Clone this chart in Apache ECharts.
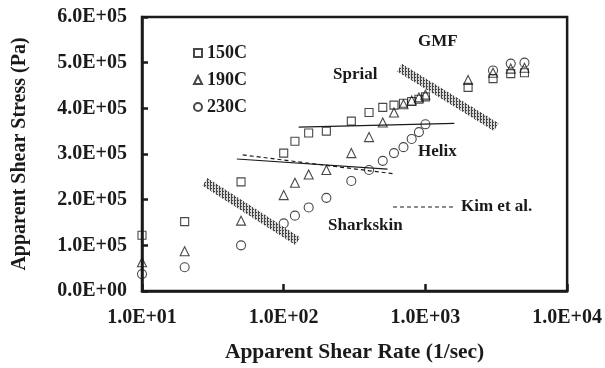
<!DOCTYPE html>
<html>
<head>
<meta charset="utf-8">
<script src="https://cdn.jsdelivr.net/npm/echarts@6/dist/echarts.min.js"></script>
<style>
  html, body { margin: 0; padding: 0; background: #fff; }
  #chart { width: 605px; height: 368px; }
</style>
</head>
<body>
<div id="chart"></div>
<script>
var shearRate = [10, 20, 50, 100, 120, 150, 200, 300, 400, 500, 600, 700, 800, 900, 1000, 2000, 3000, 4000, 5000];
var stress150 = [1.22, 1.52, 2.39, 3.02, 3.28, 3.46, 3.5, 3.72, 3.91, 4.02, 4.07, 4.11, 4.15, 4.2, 4.25, 4.46, 4.65, 4.76, 4.78];
var stress190 = [0.63, 0.87, 1.54, 2.1, 2.37, 2.55, 2.65, 3.02, 3.37, 3.69, 3.91, 4.09, 4.17, 4.24, 4.3, 4.62, 4.78, 4.87, 4.89];
var stress230 = [0.37, 0.52, 1.0, 1.48, 1.65, 1.83, 2.04, 2.41, 2.65, 2.85, 3.02, 3.15, 3.33, 3.48, 3.65, null, 4.83, 4.98, 5.0];

// boundary lines [shear rate, stress]
var spiralLine = [[127.6, 3.59e5], [1600, 3.67e5]];
var helixLine = [[46.7, 2.89e5], [540, 2.67e5]];
var kimLine = [[51.4, 2.98e5], [586, 2.57e5]];
var sharkskinBand = [[27.8, 2.39e5], [125.6, 1.09e5]];
var gmfBand = [[656, 4.89e5], [3162, 3.59e5]];

var font = "'Liberation Serif', 'Times New Roman', serif";
var ink = "#1a1a1a";

function sci(v) {
  if (v === 0) return "0.0E+00";
  var e = Math.floor(Math.log10(v) + 1e-9);
  var m = v / Math.pow(10, e);
  return m.toFixed(1) + "E" + (e < 0 ? "-" : "+") + (Math.abs(e) < 10 ? "0" : "") + Math.abs(e);
}

function pairs(ys) {
  return shearRate.map(function (x, i) {
    return ys[i] == null ? null : [x, ys[i] * 1e5];
  }).filter(function (d) { return d; });
}

// hatch pattern for the transition bands
var hatch = document.createElement("canvas");
hatch.width = 3; hatch.height = 3;
var hctx = hatch.getContext("2d");
hctx.fillStyle = "#d8d8d8";
hctx.fillRect(0, 0, 3, 3);
hctx.fillStyle = "#444";
hctx.fillRect(0, 0, 1, 3);
hctx.fillRect(1, 2, 1, 1);

function markerSeries(name, symbol, size, ys) {
  return {
    name: name,
    type: "scatter",
    symbol: symbol,
    symbolSize: size,
    clip: false,
    data: pairs(ys),
    itemStyle: { color: "rgba(0,0,0,0)", borderColor: ink, borderWidth: 1.1 }
  };
}

function lineSeries(data, type, width, color) {
  return {
    type: "line",
    data: data,
    symbol: "none",
    silent: true,
    lineStyle: { color: color || ink, width: width, type: type }
  };
}

var chart = echarts.init(document.getElementById("chart"));

var option = {
  animation: false,
  grid: {
    left: 142, right: 37, top: 17, bottom: 75,
    show: true, borderColor: ink, borderWidth: 2.5
  },
  legend: {
    orient: "vertical",
    left: 188, top: 39,
    itemGap: 9,
    itemWidth: 8, itemHeight: 8,
    data: ["150C", "190C", "230C"],
    textStyle: { fontFamily: font, fontWeight: "bold", fontSize: 18, color: ink }
  },
  xAxis: {
    type: "log",
    logBase: 10,
    min: 10, max: 10000,
    axisLine: { lineStyle: { color: ink, width: 2.5 } },
    axisTick: { inside: true, length: 7, lineStyle: { color: ink, width: 2.5 } },
    splitLine: { show: false },
    axisLabel: {
      formatter: sci, margin: 17,
      fontFamily: font, fontWeight: "bold", fontSize: 20, color: ink
    },
    name: "Apparent Shear Rate (1/sec)",
    nameLocation: "middle",
    nameGap: 50,
    nameTextStyle: { fontFamily: font, fontWeight: "bold", fontSize: 21.5, color: ink }
  },
  yAxis: {
    type: "value",
    min: 0, max: 6e5, interval: 1e5,
    axisLine: { lineStyle: { color: ink, width: 2.5 } },
    axisTick: { inside: true, length: 6, lineStyle: { color: ink, width: 2.5 } },
    splitLine: { show: false },
    axisLabel: {
      formatter: sci, margin: 15,
      fontFamily: font, fontWeight: "bold", fontSize: 20, color: ink
    },
    name: "Apparent Shear Stress (Pa)",
    nameLocation: "middle",
    nameGap: 112,
    nameTextStyle: { fontFamily: font, fontWeight: "bold", fontSize: 20, color: ink }
  },
  series: [
    lineSeries(sharkskinBand, "solid", 9, { image: hatch, repeat: "repeat" }),
    lineSeries(gmfBand, "solid", 9, { image: hatch, repeat: "repeat" }),
    lineSeries(spiralLine, "solid", 1.2),
    lineSeries(helixLine, "solid", 1.2),
    lineSeries(kimLine, [4, 3], 1.2),
    markerSeries("150C", "rect", 8, stress150),
    markerSeries("190C", "triangle", 9, stress190),
    markerSeries("230C", "circle", 9, stress230)
  ],
  graphic: [
    { type: "text", left: 418, top: 33, style: { text: "GMF", font: "bold 17px " + font, fill: ink } },
    { type: "text", left: 333, top: 66, style: { text: "Sprial", font: "bold 17px " + font, fill: ink } },
    { type: "text", left: 418, top: 143, style: { text: "Helix", font: "bold 17px " + font, fill: ink } },
    { type: "text", left: 328, top: 217, style: { text: "Sharkskin", font: "bold 17px " + font, fill: ink } },
    { type: "text", left: 461, top: 198, style: { text: "Kim et al.", font: "bold 17px " + font, fill: ink } },
    { type: "line", shape: { x1: 393, y1: 207, x2: 456, y2: 207 }, style: { stroke: ink, lineWidth: 1.2, lineDash: [4, 3] } }
  ]
};

chart.setOption(option);
</script>
</body>
</html>
